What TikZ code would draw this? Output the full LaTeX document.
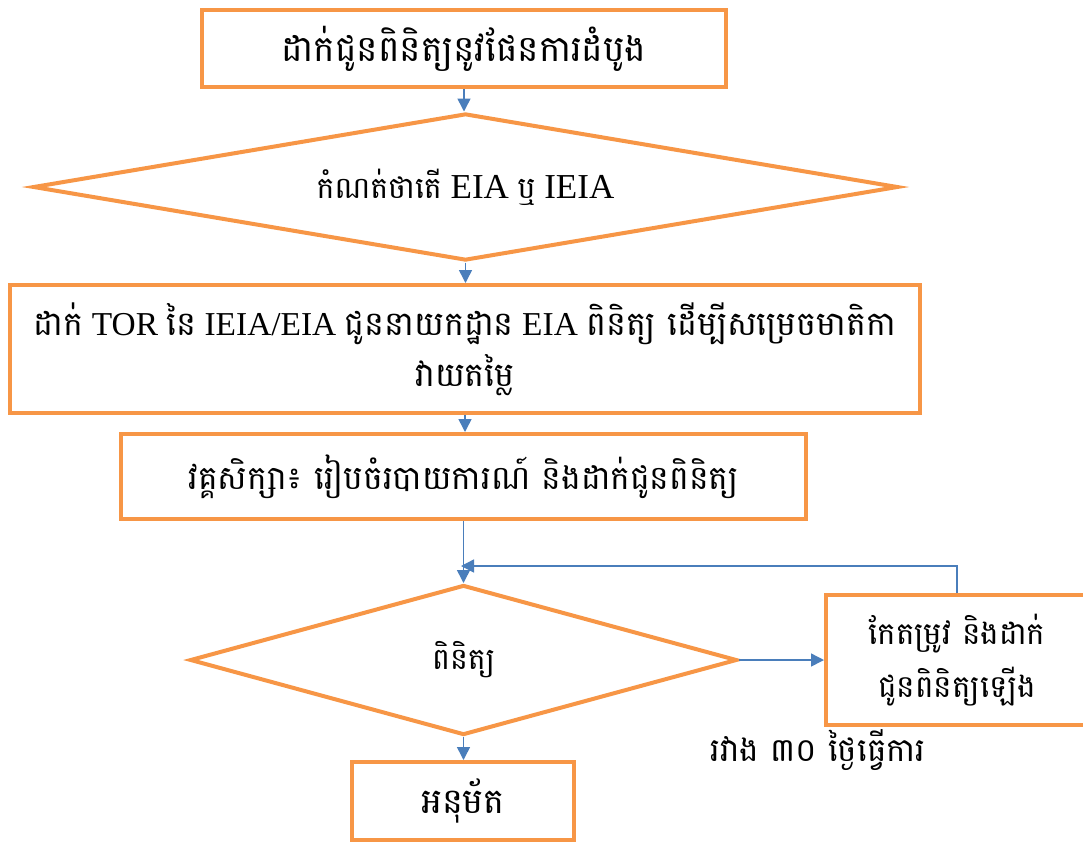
\documentclass[tikz,border=0pt]{standalone}
\usepackage{fontspec}
\setmainfont{Liberation Serif}
\newfontfamily\kh[Script=Khmer]{Battambang}
\usetikzlibrary{shapes.geometric,arrows.meta}
\definecolor{boxorange}{HTML}{F79646}
\definecolor{linkblue}{HTML}{4A7EBB}
\tikzset{
  procbox/.style={draw=boxorange, line width=2pt, fill=white, inner sep=0pt, align=center, font=\fontsize{15}{25}\selectfont},
  decision/.style={diamond, draw=boxorange, line width=2pt, fill=white, inner sep=0pt, font=\fontsize{15}{25}\selectfont},
  flow/.style={draw=linkblue, line width=0.75pt, -{Triangle[length=6.5pt,width=6.5pt]}},
  note/.style={font=\fontsize{16.3}{25}\selectfont, inner sep=0pt}
}
\begin{document}
\begin{tikzpicture}[x=0.5pt,y=-0.5pt]
\fill[white] (0,0) rectangle (1083,843);
\useasboundingbox (0,0) rectangle (1083,843);
\node[procbox, minimum width=262pt, minimum height=38.5pt, font=\fontsize{18}{25}\selectfont] (b1) at (464,48.5) {\kh ដាក់ជូនពិនិត្យនូវផែនការដំបូង};
\node[decision, minimum width=432.5pt, minimum height=73.5pt, aspect=5.9, font=\fontsize{17.5}{25}\selectfont] (d2) at (465.5,187) {{\kh\fontsize{15}{25}\selectfont កំណត់ថាតើ} EIA {\kh\fontsize{15}{25}\selectfont ឬ} IEIA};
\node[procbox, minimum width=455pt, minimum height=64pt, font=\fontsize{16.7}{25.5}\selectfont] (b3) at (465,349) {{\kh ដាក់} TOR {\kh នៃ} IEIA/EIA {\kh ជូននាយកដ្ឋាន} EIA {\kh ពិនិត្យ ដើម្បីសម្រេចមាតិកា}\\{\kh វាយតម្លៃ}};
\node[procbox, minimum width=342.5pt, minimum height=42.5pt, font=\fontsize{16.5}{25}\selectfont] (b4) at (463.5,476.5) {\kh វគ្គសិក្សា៖ រៀបចំរបាយការណ៍ និងដាក់ជូនពិនិត្យ};
\node[decision, minimum width=273.5pt, minimum height=75pt, aspect=3.65] (d5) at (463.5,660) {\kh ពិនិត្យ};
\node[procbox, minimum width=131pt, minimum height=65pt, font=\fontsize{15.5}{26.5}\selectfont] (b6) at (957,660) {\kh កែតម្រូវ និងដាក់\\\kh ជូនពិនិត្យឡើង};
\node[procbox, minimum width=111pt, minimum height=39pt, font=\fontsize{17.5}{25}\selectfont] (b8) at (463,801) {\kh អនុម័ត};
\node[note] (lbl) at (818,750) {\kh រវាង ៣០ ថ្ងៃធ្វើការ};
\coordinate (jn) at (461,566);
\draw[flow] (b1.south) -- (b1.south |- d2.north);
\draw[flow] (d2.south) -- (d2.south |- b3.north);
\draw[flow] (b3.south) -- (b3.south |- b4.north);
\draw[flow] (b4.south) -- (b4.south |- d5.north);
\draw[flow] (d5.east) -- (b6.west);
\draw[flow] (b6.north) -- (b6.north |- jn) -- (jn);
\draw[flow] (d5.south) -- (d5.south |- b8.north);
\end{tikzpicture}
\end{document}
